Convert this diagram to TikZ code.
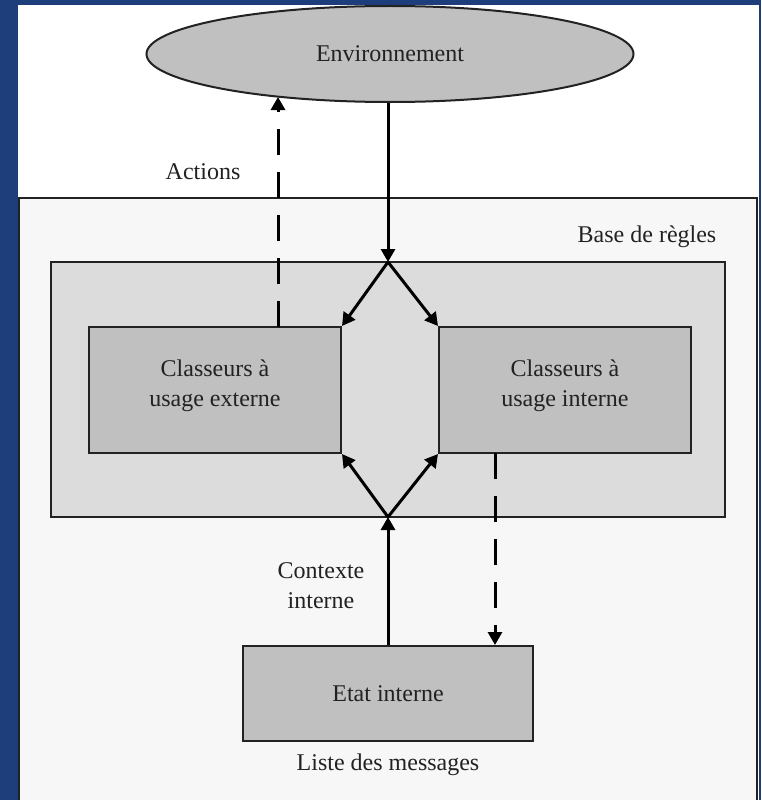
\documentclass[tikz,border=0pt]{standalone}
\usepackage{fontspec}
\setmainfont{Liberation Serif}
\usetikzlibrary{shapes.geometric,arrows.meta}
\definecolor{slideblue}{RGB}{29,61,123}
\definecolor{panelgray}{RGB}{247,247,247}
\definecolor{basegray}{RGB}{220,220,220}
\definecolor{boxgray}{RGB}{192,192,192}
\definecolor{ink}{RGB}{34,34,34}
\tikzset{
  lbl/.style={font=\fontsize{24}{30}\selectfont, text=ink, inner sep=0pt, align=center},
  frame/.style={draw=ink, line width=2pt},
  classbox/.style={frame, fill=boxgray, minimum width=252pt, minimum height=126pt, lbl, text depth=13pt},
  flow/.style={draw=black, line width=3pt, -{Triangle[length=13pt,width=14pt]}},
  flowdash/.style={flow, dash pattern=on 26pt off 17pt}
}
\begin{document}
\begin{tikzpicture}[x=1pt,y=-1pt]
  % slide background and white panel
  \fill[slideblue] (0,0) rectangle (761,800);
  \useasboundingbox (0,0) rectangle (761,800);
  \fill[white] (18,5) rectangle (759,800);

  % rule base container
  \draw[frame, fill=panelgray] (19,806) -- (19,198) -- (757,198) -- (757,806);
  \node[lbl] (base) at (647,237) {Base de règles};
  \draw[frame, fill=basegray] (51,262) rectangle (725,517);

  % environment
  \node[ellipse, frame, fill=boxgray, minimum width=487pt, minimum height=96pt, lbl] (env) at (390,54) {Environnement};

  % classifiers
  \node[classbox] (ext) at (215,390) {Classeurs à\\usage externe};
  \node[classbox] (int) at (565,390) {Classeurs à\\usage interne};

  % internal state
  \node[frame, fill=boxgray, minimum width=290pt, minimum height=95pt, lbl] (etat) at (388,693.5) {Etat interne};
  \node[lbl] (liste) at (388,765) {Liste des messages};

  % labels
  \node[lbl] (actions) at (203,172) {Actions};
  \node[lbl] (ctx) at (321,586) {Contexte\\interne};

  % junction points
  \coordinate (jt) at (388,262);
  \coordinate (jb) at (388,517);
  \coordinate (actfoot) at (278,327);
  \coordinate (acthead) at (278,97);
  \coordinate (msgfoot) at (495,453);

  % connectors
  \draw[flow] (jt |- env.south) -- (jt);
  \draw[flow] (jt) -- (ext.north east);
  \draw[flow] (jt) -- (int.north west);
  \draw[flow] (jb) -- (ext.south east);
  \draw[flow] (jb) -- (int.south west);
  \draw[flow] (jb |- etat.north) -- (jb);
  \draw[flowdash] (actfoot) -- (acthead);
  \draw[flowdash] (msgfoot) -- (msgfoot |- etat.north);
\end{tikzpicture}
\end{document}
